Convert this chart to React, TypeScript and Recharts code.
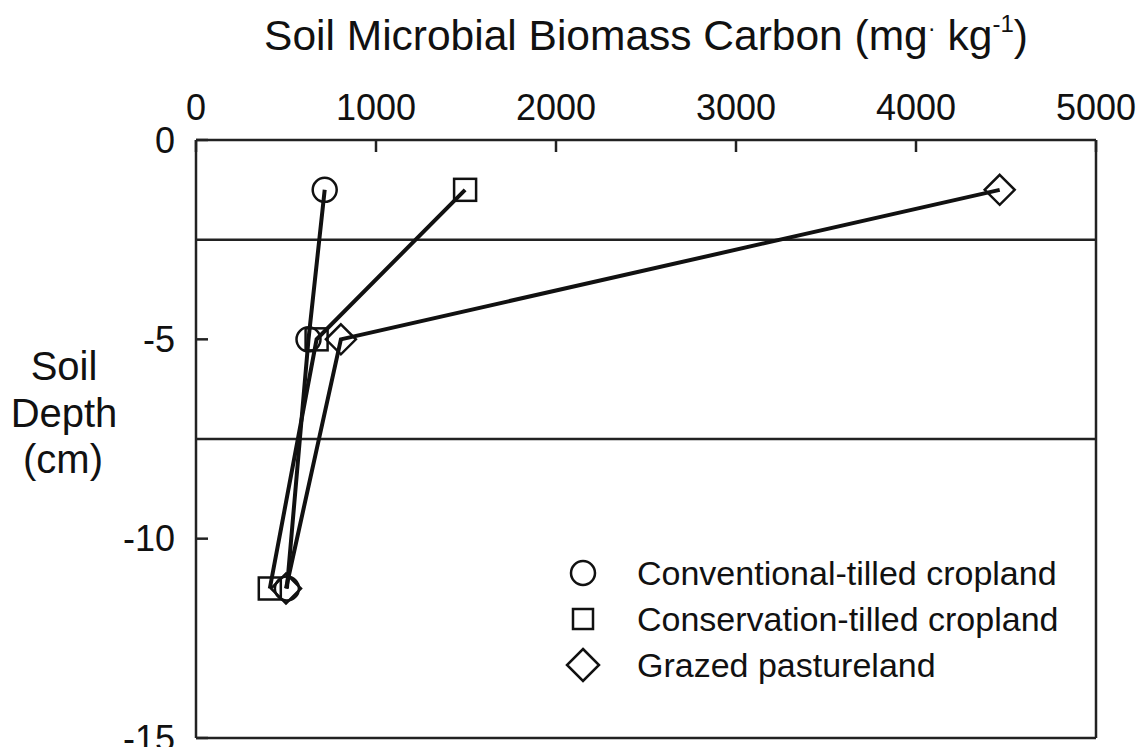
import { ScatterChart, Scatter, XAxis, YAxis, ReferenceLine, Legend } from 'recharts'

// depth of each sampling layer midpoint (cm, negative = below surface)
const depths = [-1.25, -5, -11.25]
// soil microbial biomass carbon, mg/kg, one value per depth
const conventional = [715, 625, 505]
const conservation = [1495, 670, 410]
const grazed = [4465, 805, 500]
const seriesNames = ['Conventional-tilled cropland', 'Conservation-tilled cropland', 'Grazed pastureland']
const xTicks = [0, 1000, 2000, 3000, 4000, 5000]
const yTicks = [-15, -10, -5, 0]
const layerBounds = [-2.5, -7.5]

const INK = '#111'
const FRAME = '#222'
const FONT = '"Liberation Sans", Arial, Helvetica, sans-serif'

const toPoints = (vals: number[]) => vals.map((x, i) => ({ x, y: depths[i] }))

const circleMark = (cx: number, cy: number, r = 12) => (
  <circle cx={cx} cy={cy} r={r} fill="none" stroke={INK} strokeWidth={2.5} />
)
const squareMark = (cx: number, cy: number, h = 11) => (
  <rect x={cx - h} y={cy - h} width={h * 2} height={h * 2} fill="none" stroke={INK} strokeWidth={2.5} />
)
const diamondMark = (cx: number, cy: number, h = 15) => (
  <polygon
    points={`${cx},${cy - h} ${cx + h},${cy} ${cx},${cy + h} ${cx - h},${cy}`}
    fill="none"
    stroke={INK}
    strokeWidth={2.5}
  />
)
const marks = [circleMark, squareMark, diamondMark]

const LegendBox = () => (
  <div style={{ fontFamily: FONT, fontSize: 34, color: INK, lineHeight: '46px' }}>
    {seriesNames.map((name, i) => (
      <div key={name} style={{ display: 'flex', alignItems: 'center', height: 46 }}>
        <svg width={34} height={34} style={{ overflow: 'visible' }}>
          {i === 0 ? circleMark(17, 17, 12) : i === 1 ? squareMark(17, 17, 10) : diamondMark(17, 17, 16)}
        </svg>
        <span style={{ marginLeft: 37 }}>{name}</span>
      </div>
    ))}
  </div>
)

const TitleLabel = ({ viewBox }: any) => {
  const cx = viewBox.x + viewBox.width / 2
  return (
    <text x={cx} y={viewBox.y - 50} textAnchor="middle" fontFamily={FONT} fontSize={42.5} fill={INK}>
      Soil Microbial Biomass Carbon (mg
      <tspan dy={-14} fontSize={24}>·</tspan>
      <tspan dy={14}> kg</tspan>
      <tspan dy={-18} fontSize={24}>-1</tspan>
      <tspan dy={18}>)</tspan>
    </text>
  )
}

const DepthLabel = () => (
  <text textAnchor="middle" fontFamily={FONT} fontSize={40} fill={INK}>
    <tspan x={64} y={380}>Soil</tspan>
    <tspan x={64} y={427}>Depth</tspan>
    <tspan x={63} y={473}>(cm)</tspan>
  </text>
)

export default function App() {
  const axisLine = { stroke: FRAME, strokeWidth: 2.5 }
  const tickFont = { fill: INK, fontSize: 36, fontFamily: FONT }
  return (
    <div style={{ position: 'absolute', left: 0, top: 0, width: 1146, height: 747, background: '#fff' }}>
      <ScatterChart width={1146} height={747} margin={{ top: 100, right: 49, bottom: 8, left: 136 }}>
        <XAxis
          xAxisId="top"
          orientation="top"
          type="number"
          dataKey="x"
          domain={[0, 5000]}
          ticks={xTicks}
          interval={0}
          height={40}
          tickSize={-12}
          tickMargin={32}
          axisLine={axisLine}
          tickLine={axisLine}
          tick={tickFont}
          label={{ content: TitleLabel }}
        />
        <XAxis
          xAxisId="bottom"
          orientation="bottom"
          type="number"
          dataKey="x"
          domain={[0, 5000]}
          ticks={xTicks}
          interval={0}
          allowDataOverflow
          height={1}
          tickSize={-12}
          axisLine={axisLine}
          tickLine={axisLine}
          tick={false}
        />
        <YAxis
          yAxisId="left"
          type="number"
          dataKey="y"
          domain={[-15, 0]}
          ticks={yTicks}
          interval={0}
          width={60}
          tickSize={-12}
          tickMargin={33}
          axisLine={axisLine}
          tickLine={axisLine}
          tick={tickFont}
          label={{ content: DepthLabel }}
        />
        <YAxis
          yAxisId="right"
          orientation="right"
          type="number"
          dataKey="y"
          domain={[-15, 0]}
          ticks={yTicks}
          interval={0}
          allowDataOverflow
          width={1}
          tickSize={-12}
          axisLine={axisLine}
          tickLine={axisLine}
          tick={false}
        />
        {layerBounds.map((d) => (
          <ReferenceLine key={d} xAxisId="top" yAxisId="left" y={d} stroke={FRAME} strokeWidth={2.5} />
        ))}
        {/* invisible series so the bottom/right frame axes get drawn */}
        <Scatter
          xAxisId="bottom"
          yAxisId="right"
          data={toPoints(conventional)}
          shape={() => <g />}
          legendType="none"
          isAnimationActive={false}
        />
        {[conventional, conservation, grazed].map((vals, i) => (
          <Scatter
            key={seriesNames[i]}
            name={seriesNames[i]}
            xAxisId="top"
            yAxisId="left"
            data={toPoints(vals)}
            line={{ stroke: INK, strokeWidth: 4 }}
            shape={(p: any) => marks[i](p.cx, p.cy)}
            isAnimationActive={false}
          />
        ))}
        <Legend
          layout="vertical"
          align="center"
          verticalAlign="middle"
          content={LegendBox}
          wrapperStyle={{ left: 566, top: 550, width: 520 }}
        />
      </ScatterChart>
    </div>
  )
}
